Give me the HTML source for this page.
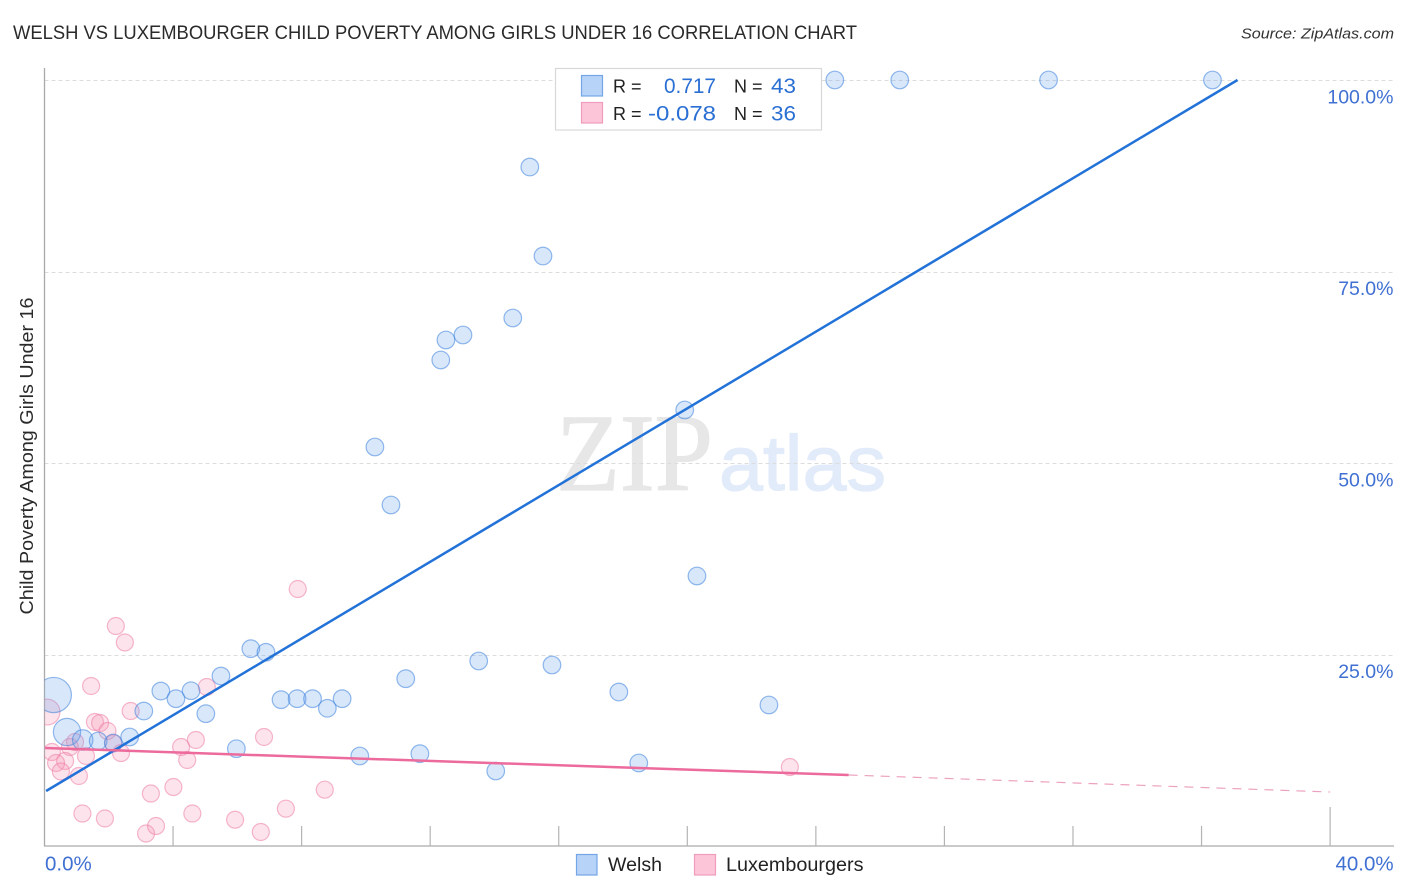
<!DOCTYPE html>
<html lang="en">
<head>
<meta charset="utf-8">
<title>Welsh vs Luxembourger Child Poverty Among Girls Under 16 Correlation Chart</title>
<style>
html,body{margin:0;padding:0;background:#fff;}
svg{display:block;font-family:"Liberation Sans",sans-serif;}
</style>
</head>
<body>
<svg id="chart" xmlns="http://www.w3.org/2000/svg" width="1406" height="892" viewBox="0 0 1406 892">
  <defs><clipPath id="plot-clip"><rect x="44.5" y="60" width="1350" height="786"/></clipPath></defs>
  <text x="13" y="39" font-size="19" fill="#2a2a2a" textLength="844" lengthAdjust="spacingAndGlyphs">WELSH VS LUXEMBOURGER CHILD POVERTY AMONG GIRLS UNDER 16 CORRELATION CHART</text>
  <text x="1394" y="38.500" font-size="15" font-style="italic" fill="#333" text-anchor="end" textLength="153" lengthAdjust="spacingAndGlyphs">Source: ZipAtlas.com</text>
  <text x="556" y="490" font-family="'Liberation Serif',serif" font-size="110" fill="#e7e7e7" stroke="#e7e7e7" stroke-width="1.200" textLength="157" lengthAdjust="spacingAndGlyphs">ZIP</text>
  <text x="719" y="490" font-size="78" fill="#e2ebfa" stroke="#e2ebfa" stroke-width="1.200" textLength="167" lengthAdjust="spacingAndGlyphs">atlas</text>
  <g id="grid"></g>
  <g id="axes"></g>
  <g id="points" clip-path="url(#plot-clip)"></g>
  <g id="trends"></g>
  <g id="tick-labels"></g>
  <text transform="translate(33,456) rotate(-90)" font-size="18" fill="#2a2a2a" text-anchor="middle" textLength="317" lengthAdjust="spacingAndGlyphs">Child Poverty Among Girls Under 16</text>

  <g>
    <rect x="555.5" y="68.5" width="266" height="61.500" fill="#fff" stroke="#d8d8d8" stroke-width="1.2"/>
    <rect x="581.500" y="75.500" width="21" height="20.500" fill="#b7d3f8" stroke="#74a6e6" stroke-width="1.200"/>
    <rect x="581.500" y="102.500" width="21" height="20.500" fill="#fcc5d8" stroke="#f09cbc" stroke-width="1.200"/>
    <text x="613" y="92.500" font-size="18" fill="#222">R =</text>
    <text x="664" y="93" font-size="21" fill="#2a6fd3" textLength="52" lengthAdjust="spacingAndGlyphs">0.717</text>
    <text x="734" y="92.500" font-size="18" fill="#222">N =</text>
    <text x="771" y="93" font-size="21" fill="#2a6fd3" textLength="25" lengthAdjust="spacingAndGlyphs">43</text>
    <text x="613" y="120" font-size="18" fill="#222">R =</text>
    <text x="648" y="120.500" font-size="21" fill="#2a6fd3" textLength="68" lengthAdjust="spacingAndGlyphs">-0.078</text>
    <text x="734" y="120" font-size="18" fill="#222">N =</text>
    <text x="771" y="120.500" font-size="21" fill="#2a6fd3" textLength="25" lengthAdjust="spacingAndGlyphs">36</text>
  </g>

  <g>
    <rect x="576.500" y="854.500" width="20.500" height="20.500" fill="#b7d3f8" stroke="#74a6e6" stroke-width="1.200"/>
    <text x="608" y="871" font-size="19" fill="#222" textLength="54" lengthAdjust="spacingAndGlyphs">Welsh</text>
    <rect x="694.500" y="854.500" width="21" height="20.500" fill="#fcc5d8" stroke="#f09cbc" stroke-width="1.200"/>
    <text x="726" y="871" font-size="19" fill="#222" textLength="137.500" lengthAdjust="spacingAndGlyphs">Luxembourgers</text>
  </g>
</svg>
<script>
const welshX = [0.29,0.70,1.19,1.67,2.14,2.65,3.09,3.62,4.09,4.56,5.02,5.49,5.97,6.42,6.89,7.36,7.86,8.34,8.80,9.26,9.81,11.24,11.68,10.28,10.78,12.33,12.49,13.02,14.57,15.10,15.51,13.51,14.04,15.79,17.87,18.49,19.92,20.30,22.54,24.59,26.61,31.24,36.34];
const welshY = [19.71,14.88,13.84,13.71,13.45,14.23,17.62,20.23,19.23,20.27,17.27,22.19,12.70,25.76,25.29,19.10,19.23,19.23,17.98,19.23,11.75,21.84,12.05,52.09,44.52,63.45,66.06,66.71,68.93,88.64,77.02,24.15,9.79,23.63,20.10,10.84,56.92,35.25,18.41,100,100,100,100];
const welshWeight = [4,2.4,1.35,1,1,1,1,1,1,1,1,1,1,1,1,1,1,1,1,1,1,1,1,1,1,1,1,1,1,1,1,1,1,1,1,1,1,1,1,1,1,1,1];
const luxX = [2.22,2.50,1.45,0.08,2.68,5.05,1.57,1.73,1.96,0.95,0.79,2.14,0.23,1.29,2.38,4.25,4.71,4.44,6.83,0.64,0.36,0.51,1.07,4.01,3.31,1.18,1.88,3.16,3.47,4.60,5.93,6.73,7.51,8.72,7.88,23.19];
const luxY = [28.72,26.57,20.89,17.49,17.62,20.76,16.19,16.06,15.01,13.58,12.92,13.41,12.27,11.75,12.14,12.92,13.84,11.23,14.23,11.10,10.84,9.73,9.14,7.70,6.85,4.24,3.59,1.63,2.61,4.24,3.43,1.83,4.87,7.35,33.55,10.31];
const luxWeight = [1,1,1,2.3,1,1,1,1,1,1,1,1,1,1,1,1,1,1,1,1,1,1,1,1,1,1,1,1,1,1,1,1,1,1,1,1];
const welshTrendX = [0.05,37.12];
const welshTrendY = [7.18,100];
const luxTrendX = [0.02,25.02];
const luxTrendY = [12.79,9.27];
const luxDashX = [25.02,40];
const luxDashY = [9.27,7.05];
const yTicks = [25,50,75,100];
const yTickLabels = ['25.0%','50.0%','75.0%','100.0%'];
const xTicks = [4,8,12,16,20,24,28,32,36,40];
const xEndTicks = [0,40];
const xEndLabels = ['0.0%','40.0%'];

const NS = 'http://www.w3.org/2000/svg';
const xScale = v => 44.5 + v * 32.14;
const yScale = v => 846 - v * 7.66;
const make = (tag, parent, attrs) => {
  const el = document.createElementNS(NS, tag);
  for (const k in attrs) el.setAttribute(k, attrs[k]);
  document.getElementById(parent).appendChild(el);
  return el;
};

yTicks.forEach((t, i) => {
  const line = make('line', 'grid', {x1: 44.5, x2: 1394, y1: Math.round(yScale(t)) + 0.5, y2: Math.round(yScale(t)) + 0.5, stroke: '#dcdcdc', 'stroke-width': 1, 'stroke-dasharray': '4 3'});
  
  
  const label = make('text', 'tick-labels', {x: 1393.5, y: yScale(t) + 23.5, 'font-size': 19.5, fill: '#3f70d2', 'text-anchor': 'end'});
  label.textContent = yTickLabels[i];
  
  
});

const yAxis = make('line', 'axes', {x1: 44.5, x2: 44.5, y1: 68, y2: 846, stroke: '#aaa', 'stroke-width': 1.3});


const xAxis = make('line', 'axes', {x1: 44, x2: 1394, y1: 846, y2: 846, stroke: '#aaa', 'stroke-width': 1.3});



xTicks.forEach(t => {
  const tick = make('line', 'axes', {x1: xScale(t), x2: xScale(t), y1: t === 40 ? 807 : 826, y2: 846, stroke: '#b4b4b4', 'stroke-width': 1.2});
  
  
});

const xLabelLeft = make('text', 'tick-labels', {x: xScale(xEndTicks[0]) + 0.5, y: 870.5, 'font-size': 20.5, fill: '#3f70d2'});
xLabelLeft.textContent = xEndLabels[0];


const xLabelRight = make('text', 'tick-labels', {x: xScale(xEndTicks[1]) + 63.5, y: 870.5, 'font-size': 20.5, fill: '#3f70d2', 'text-anchor': 'end'});
xLabelRight.textContent = xEndLabels[1];



luxX.forEach((v, i) => {
  const c = make('circle', 'points', {cx: xScale(v), cy: yScale(luxY[i]), r: 8.5 * Math.sqrt(luxWeight[i]), fill: 'rgba(246,150,182,0.27)', stroke: 'rgba(236,125,165,0.55)', 'stroke-width': 1.2});
  
  
});
welshX.forEach((v, i) => {
  const c = make('circle', 'points', {cx: xScale(v), cy: yScale(welshY[i]), r: 8.8 * Math.sqrt(welshWeight[i]), fill: 'rgba(110,165,235,0.27)', stroke: 'rgba(60,130,220,0.55)', 'stroke-width': 1.2});
  
  
});

const welshTrend = make('line', 'trends', {x1: xScale(welshTrendX[0]), y1: yScale(welshTrendY[0]), x2: xScale(welshTrendX[1]), y2: yScale(welshTrendY[1]), stroke: '#2272d8', 'stroke-width': 2.5});


const luxTrend = make('line', 'trends', {x1: xScale(luxTrendX[0]), y1: yScale(luxTrendY[0]), x2: xScale(luxTrendX[1]), y2: yScale(luxTrendY[1]), stroke: '#ec6a9c', 'stroke-width': 2.5});


const luxDash = make('line', 'trends', {x1: xScale(luxDashX[0]), y1: yScale(luxDashY[0]), x2: xScale(luxDashX[1]), y2: yScale(luxDashY[1]), stroke: '#e88bae', 'stroke-width': 1.2, 'stroke-dasharray': '9 7', opacity: 0.8});


</script>
</body>
</html>
